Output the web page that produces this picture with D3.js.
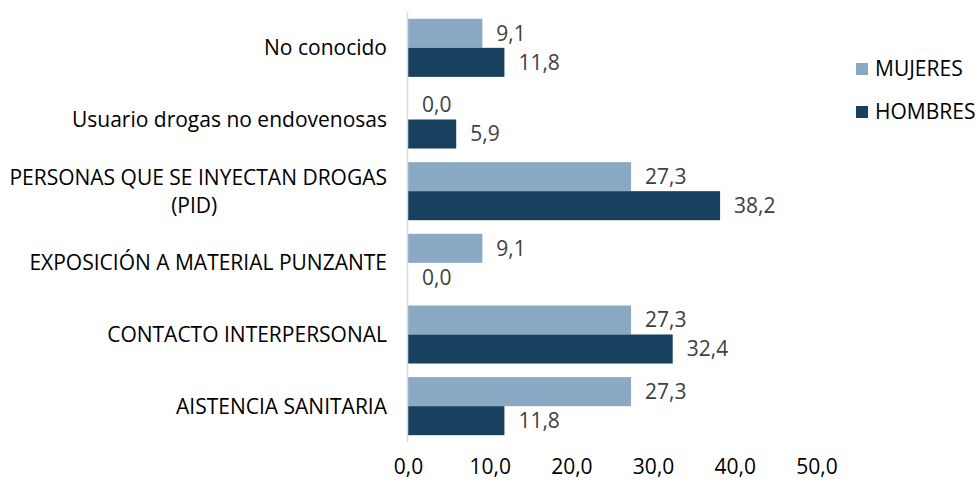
<!DOCTYPE html>
<html>
<head>
<meta charset="utf-8">
<script src="https://cdn.jsdelivr.net/npm/d3@7"></script>
<style>
  body { margin: 0; background: #fff; }
  text { font-family: "Open Sans", "Noto Sans", sans-serif; }
</style>
</head>
<body>
<div id="chart"></div>
<script>
// datos del grafico
const categorias = [
  "No conocido",
  "Usuario drogas no endovenosas",
  "PERSONAS QUE SE INYECTAN DROGAS (PID)",
  "EXPOSICIÓN A MATERIAL PUNZANTE",
  "CONTACTO INTERPERSONAL",
  "AISTENCIA SANITARIA"
];
const mujeres = [9.1, 0.0, 27.3, 9.1, 27.3, 27.3];
const hombres = [11.8, 5.9, 38.2, 0.0, 32.4, 11.8];
const series = ["MUJERES", "HOMBRES"];
const colores = ["#8AA9C5", "#17415F"];
const ticks = [0, 10, 20, 30, 40, 50];

const width = 977, height = 484;
const fs = 21;
const fmt = v => v.toFixed(1).replace(".", ",");

const svg = d3.select("#chart").append("svg")
  .attr("width", width)
  .attr("height", height);

const x = d3.scaleLinear().domain([0, 50]).range([408, 816.5]);
const y = d3.scaleBand().domain(categorias).range([12, 442])
  .paddingInner(0.19).paddingOuter(0.095);
const ySub = d3.scaleBand().domain(series).range([0, y.bandwidth()]);

const filas = categorias.map((c, i) => ({ cat: c, vals: [mujeres[i], hombres[i]] }));

// barras
const grupos = svg.append("g").selectAll("g")
  .data(filas)
  .enter().append("g")
  .attr("transform", d => `translate(0,${y(d.cat)})`);

grupos.selectAll("rect")
  .data(d => d.vals.map((v, k) => ({ s: series[k], v: v, k: k })))
  .enter().append("rect")
  .attr("x", x(0))
  .attr("y", d => ySub(d.s))
  .attr("width", d => x(d.v) - x(0))
  .attr("height", ySub.bandwidth())
  .attr("fill", d => colores[d.k]);

grupos.selectAll("text.valor")
  .data(d => d.vals.map((v, k) => ({ s: series[k], v: v })))
  .enter().append("text")
  .attr("class", "valor")
  .attr("x", d => x(d.v) + 14)
  .attr("y", d => ySub(d.s) + ySub.bandwidth() / 2)
  .attr("dy", "0.35em")
  .attr("font-size", fs)
  .attr("fill", "#404040")
  .text(d => fmt(d.v));

// eje vertical
svg.append("line")
  .attr("x1", x(0) - 0.5).attr("x2", x(0) - 0.5)
  .attr("y1", 12).attr("y2", 442)
  .attr("stroke", "#d9d9d9")
  .attr("stroke-width", 1.5);

// etiquetas de categoria (con salto de linea para PID)
const etiquetas = svg.append("g").selectAll("text")
  .data(categorias)
  .enter().append("text")
  .attr("x", 387)
  .attr("y", d => y(d) + y.bandwidth() / 2)
  .attr("font-size", fs)
  .attr("fill", "#000");

etiquetas.each(function(d) {
  const t = d3.select(this);
  if (!d.includes("(PID)")) {
    t.attr("text-anchor", "end").append("tspan").attr("dy", "0.35em").text(d);
    return;
  }
  // dos lineas centradas entre si
  const l1 = t.append("tspan").attr("text-anchor", "end").attr("x", 387)
    .attr("dy", -14 + fs * 0.35).text("PERSONAS QUE SE INYECTAN DROGAS");
  const w = l1.node().getComputedTextLength();
  t.append("tspan").attr("text-anchor", "middle").attr("x", 387 - w / 2 - 4)
    .attr("dy", 28).text("(PID)");
});

// eje x
const ax = svg.append("g")
  .attr("transform", "translate(0,467)")
  .call(d3.axisBottom(x).tickValues(ticks).tickFormat(fmt).tickSize(0).tickPadding(0));
ax.select(".domain").remove();
ax.selectAll("text")
  .attr("font-size", fs)
  .attr("fill", "#000")
  .attr("dy", "0.35em")
  .style("font-family", '"Open Sans", "Noto Sans", sans-serif');

// leyenda
const leyenda = svg.append("g").selectAll("g")
  .data(series)
  .enter().append("g")
  .attr("transform", (d, i) => `translate(856,${63 + i * 43})`);
leyenda.append("rect")
  .attr("width", 12).attr("height", 12)
  .attr("fill", (d, i) => colores[i]);
leyenda.append("text")
  .attr("x", 19).attr("y", 6)
  .attr("dy", "0.35em")
  .attr("font-size", fs)
  .attr("fill", "#000")
  .text(d => d);
</script>
</body>
</html>
